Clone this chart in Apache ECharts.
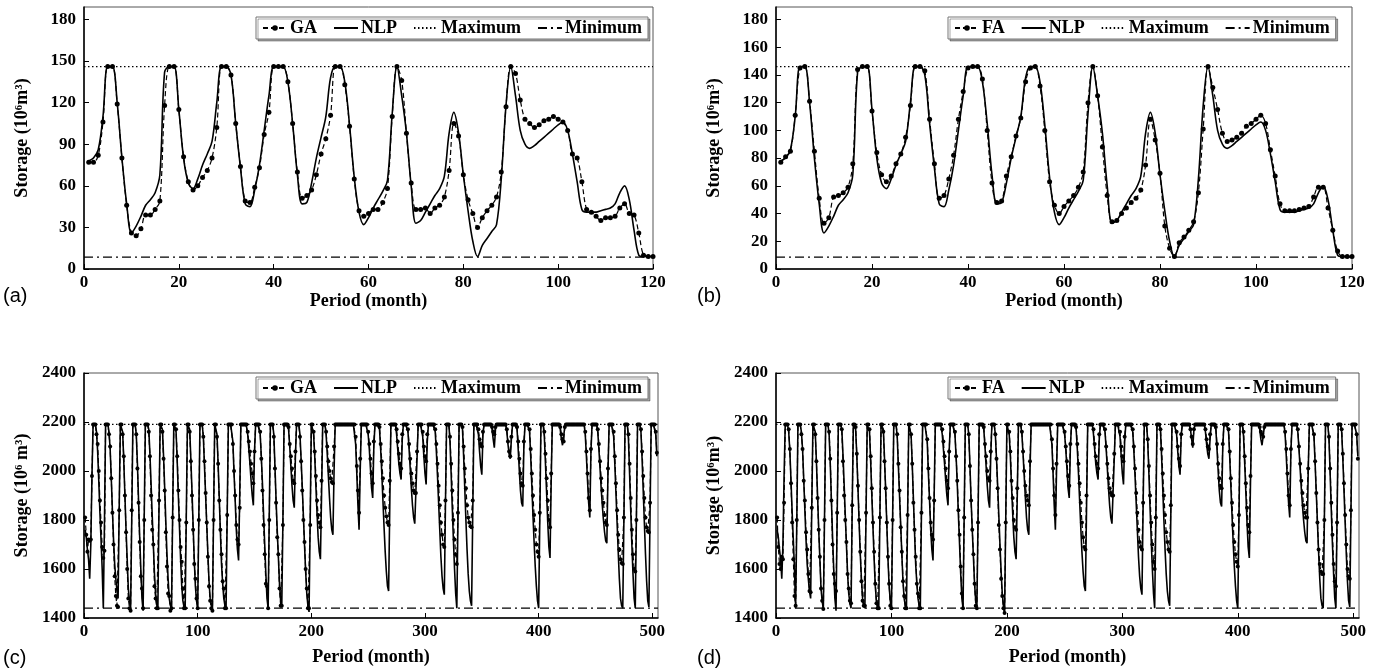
<!DOCTYPE html>
<html><head><meta charset="utf-8">
<script src="https://cdn.jsdelivr.net/npm/echarts@6/dist/echarts.min.js"></script>
<style>html,body{margin:0;padding:0;background:#fff}#c{width:1376px;height:669px}</style>
</head><body><div id="c"></div>
<script>
// ---- panel (a)/(b): 120 months ----
const nlp120 = [78,80,86,110,146,146,120,80,47,26, 31,38,46,50,55,68,142,146,146,115, 80,62,58,65,75,83,92,120,146,146,
140,105,73,47,45,57,75,100,125,146, 146,146,135,105,68,47,48,62,80,95, 110,138,146,146,135,104,66,41,32,37,
44,50,56,64,112,146,125,98,60,33, 35,41,47,53,58,67,98,113,98,68, 42,20,9,17,22,27,32,65,118,146,
125,100,90,87,89,92,95,98,101,104, 106,100,83,63,43,41,41,41,42,43, 44,47,55,60,50,28,10,9,9,9];
const ga120 = [77,77,82,106,146,146,119,80,46,26, 24,29,39,39,43,49,118,146,146,115, 81,63,57,60,66,71,80,102,146,146,
140,105,74,49,48,59,73,97,113,146, 146,146,135,105,70,51,53,57,68,83, 94,111,146,146,133,103,65,42,38,40,
43,43,48,58,110,146,136,98,62,43, 43,44,40,44,46,52,71,105,96,68, 50,40,30,37,42,46,52,70,117,146,
141,122,108,105,102,104,107,108,110,108, 106,100,83,80,63,43,41,38,35,37, 37,38,44,47,40,39,26,10,9,9];
const fa120 = [77,81,85,111,145,146,121,85,51,33, 37,52,53,55,59,76,144,146,146,114, 84,68,63,67,76,83,95,118,146,146,
143,108,76,51,53,65,82,108,128,145, 146,146,137,100,62,48,49,67,81,96, 109,135,145,146,132,100,63,46,40,45,
49,53,59,70,120,146,125,88,53,34, 35,40,44,48,51,57,75,108,93,69, 31,15,9,19,23,28,34,55,101,146,
131,115,98,92,93,95,98,103,105,108, 111,105,86,67,47,42,42,42,43,44, 45,52,59,59,44,28,13,9,9,9];
const maxA = 146, minA = 8.5;
const yTicksA = {min:0, max:189, a:30, b:20};

// ---- panel (c)/(d): 504 months ----
const nlp504 = [
1760,1730,1680,1640,1560,1700,1980,2190,2190,2190, 2160,2080,1960,1830,1720,1600,1440,1790,2190,2190,
2190,2160,2090,1970,1840,1720,1620,1560,1510,1480, 1860,2190,2190,2160,2040,1900,1760,1640,1520,1470,
1435,1800,2190,2190,2190,2150,2030,1880,1730,1600, 1480,1430,1820,2190,2190,2190,2170,2070,1950,1820,
1700,1580,1500,1460,1440,1850,2190,2190,2170,2060, 1930,1790,1660,1560,1480,1450,1440,1830,2190,2190,
2160,2040,1900,1770,1640,1530,1470,1445,1435,1820, 2190,2190,2170,2050,1920,1780,1640,1530,1470,1440,
1800,2190,2190,2190,2140,2020,1900,1780,1660,1550, 1480,1450,1440,1820,2190,2190,2150,2030,1890,1750,
1620,1540,1480,1450,1440,1830,2190,2190,2190,2190, 2120,1990,1880,1760,1680,1635,1900,2190,2190,2190,
2190,2190,2180,2150,2090,2030,1960,1900,1860,2080, 2190,2190,2190,2190,2150,2060,1950,1820,1700,1580,
1480,1440,1820,2190,2190,2190,2150,2020,1880,1760, 1650,1540,1470,1445,1800,2190,2190,2190,2190,2170,
2100,2020,1940,1880,1850,2060,2190,2190,2190,2150, 2050,1940,1820,1700,1590,1500,1450,1425,1800,2190,
2190,2150,2060,1940,1830,1730,1670,1640,1900,2190, 2190,2190,2150,2070,1980,1890,1810,1760,1740,2000,
2190,2190,2190,2190,2190,2190,2190,2190,2190,2190, 2190,2190,2190,2190,2190,2190,2190,2190,2110,1990,
1860,1760,2000,2190,2190,2190,2190,2190,2190,2150, 2090,2010,1930,1890,2100,2190,2190,2190,2190,2170,
2090,1990,1880,1770,1670,1590,1530,1510,1850,2190, 2190,2190,2190,2190,2150,2090,2030,1990,1965,2130,
2190,2190,2190,2190,2160,2090,2010,1930,1860,1810, 1785,1780,2050,2190,2190,2190,2190,2140,2060,1990,
1945,2120,2190,2190,2190,2190,2190,2190,2160,2080, 1980,1870,1760,1650,1570,1520,1495,1860,2190,2190,
2190,2120,1990,1850,1720,1600,1500,1440,1800,2190, 2190,2190,2170,2060,1930,1800,1680,1580,1510,1470,
1450,1820,2190,2190,2190,2190,2150,2080,2020,1985, 2150,2190,2190,2190,2190,2190,2190,2190,2170,2130,
2095,2170,2190,2190,2190,2190,2190,2190,2190,2190, 2190,2160,2110,2070,2050,2130,2190,2190,2190,2190,
2170,2090,2000,1920,1870,1855,2100,2190,2190,2190, 2190,2160,2060,1940,1820,1710,1610,1530,1470,1440,
1800,2190,2190,2190,2140,2030,1910,1790,1690,1645, 1950,2190,2190,2190,2190,2190,2190,2190,2170,2130,
2105,2100,2180,2190,2190,2190,2190,2190,2190,2190, 2190,2190,2190,2190,2190,2190,2190,2190,2190,2190,
2150,2060,1960,1870,1810,2080,2190,2190,2190,2190, 2190,2160,2090,2010,1930,1860,1800,1750,1715,1705,
2000,2190,2190,2190,2190,2140,2030,1910,1790,1670, 1560,1480,1450,1440,1800,2190,2190,2190,2130,1990,
1840,1700,1580,1480,1440,1810,2190,2190,2190,2160, 2050,1920,1790,1660,1550,1470,1445,1820,2190,2190,
2190,2190,2150,2060];
const ga504 = [
1810,1740,1670,1720,1715,1720,1980,2190,2190,2190, 2150,2110,2000,1880,1790,1690,1645,1675,2190,2190,
2190,2150,2100,1970,1830,1700,1570,1490,1450,1445, 1840,2190,2190,2150,2060,1900,1750,1600,1480,1440,
1430,1840,2190,2190,2190,2150,2010,1870,1710,1570, 1520,1440,1800,2190,2190,2190,2160,2060,1900,1760,
1700,1530,1480,1440,1440,1880,2190,2190,2160,2050, 1920,1750,1610,1500,1490,1430,1440,1810,2190,2190,
2170,2060,1920,1800,1690,1630,1520,1440,1440,1790, 2190,2190,2160,2040,1900,1760,1620,1560,1480,1440,
1800,2190,2190,2190,2140,2040,1910,1790,1650,1530, 1470,1440,1430,1800,2190,2190,2140,2030,1880,1760,
1660,1550,1520,1440,1440,1820,2190,2190,2190,2190, 2110,2000,1900,1780,1720,1700,1850,2190,2190,2190,
2190,2190,2190,2160,2120,2080,2030,1990,1950,2080, 2190,2190,2190,2190,2160,2050,1920,1780,1660,1540,
1530,1440,1800,2190,2190,2190,2140,2010,1870,1730, 1660,1520,1450,1450,1780,2190,2190,2190,2190,2180,
2110,2060,2010,1960,1950,2080,2190,2190,2190,2140, 2040,1920,1800,1710,1600,1520,1440,1440,1780,2190,
2190,2160,2080,1980,1880,1820,1790,1770,1960,2190, 2190,2190,2160,2100,2040,2000,1970,1955,1950,2100,
2190,2190,2190,2190,2190,2190,2190,2190,2190,2190, 2190,2190,2190,2190,2190,2190,2190,2190,2140,2020,
1920,1830,2050,2190,2190,2190,2190,2190,2190,2160, 2110,2050,1990,1950,2120,2190,2190,2190,2190,2180,
2110,2040,1970,1900,1850,1815,1790,1780,1960,2190, 2190,2190,2190,2190,2170,2120,2070,2030,2010,2150,
2190,2190,2190,2190,2170,2110,2050,1990,1950,1920, 1910,1910,2080,2190,2190,2190,2190,2160,2100,2060,
2040,2150,2190,2190,2190,2190,2190,2190,2170,2110, 2030,1940,1860,1790,1740,1700,1690,1880,2190,2190,
2190,2140,2030,1920,1800,1720,1660,1620,1830,2190, 2190,2190,2180,2100,2010,1930,1860,1810,1790,1775,
1770,1880,2190,2190,2190,2190,2170,2130,2110,2100, 2160,2190,2190,2190,2190,2190,2190,2190,2180,2160,
2150,2180,2190,2190,2190,2190,2190,2190,2190,2190, 2190,2170,2120,2080,2060,2140,2190,2190,2190,2190,
2180,2120,2050,1990,1950,1940,2120,2190,2190,2190, 2190,2170,2090,1990,1900,1820,1760,1700,1670,1650,
1830,2190,2190,2190,2160,2070,1970,1880,1800,1770, 1990,2190,2190,2190,2190,2190,2190,2190,2180,2150,
2130,2120,2180,2190,2190,2190,2190,2190,2190,2190, 2190,2190,2190,2190,2190,2190,2190,2190,2190,2190,
2160,2080,1990,1890,1840,2090,2190,2190,2190,2190, 2190,2170,2110,2040,1970,1920,1870,1820,1790,1780,
2010,2190,2190,2190,2190,2160,2060,1950,1840,1740, 1680,1640,1625,1620,1810,2190,2190,2190,2150,2030,
1890,1760,1660,1600,1590,1800,2190,2190,2190,2170, 2080,1980,1890,1810,1770,1755,1750,1870,2190,2190,
2190,2190,2160,2075];
const fa504 = [
1810,1690,1620,1600,1650,1640,1870,2190,2190,2190, 2170,2090,1950,1790,1640,1490,1450,1800,2190,2190,
2190,2150,2090,1960,1880,1750,1680,1580,1510,1505, 1850,2190,2190,2150,2040,1890,1760,1650,1520,1470,
1437,1800,2190,2190,2190,2160,2050,1880,1700,1580, 1540,1510,1830,2190,2190,2190,2170,2040,1900,1800,
1710,1580,1520,1470,1460,1860,2190,2190,2180,2070, 1940,1800,1670,1550,1470,1450,1450,1830,2190,2190,
2170,2060,1930,1790,1670,1540,1460,1440,1440,1810, 2190,2190,2160,2040,1930,1790,1650,1540,1450,1440,
1800,2190,2190,2190,2150,2030,1920,1770,1670,1550, 1490,1440,1440,1820,2190,2190,2150,2030,1870,1760,
1650,1540,1500,1440,1440,1830,2190,2190,2190,2190, 2130,2010,1890,1790,1740,1720,1880,2190,2190,2190,
2190,2190,2190,2170,2120,2060,2010,1960,1930,2080, 2190,2190,2190,2190,2160,2060,1960,1840,1740,1610,
1500,1440,1810,2190,2190,2190,2150,2020,1880,1760, 1660,1540,1450,1440,1790,2190,2190,2190,2190,2180,
2110,2060,2000,1970,1960,2080,2190,2190,2190,2150, 2050,1930,1780,1680,1560,1490,1440,1420,1790,2190,
2190,2160,2080,1960,1890,1800,1770,1760,1930,2190, 2190,2190,2160,2080,2000,1940,1900,1880,1860,2040,
2190,2190,2190,2190,2190,2190,2190,2190,2190,2190, 2190,2190,2190,2190,2190,2190,2190,2190,2130,2010,
1900,1820,2030,2190,2190,2190,2190,2190,2190,2160, 2100,2040,1980,1940,2110,2190,2190,2190,2190,2180,
2110,2030,1950,1870,1790,1730,1690,1680,1900,2190, 2190,2190,2190,2190,2170,2110,2060,2030,2010,2150,
2190,2190,2190,2190,2170,2100,2030,1970,1930,1910, 1900,1900,2070,2190,2190,2190,2190,2160,2100,2060,
2040,2140,2190,2190,2190,2190,2190,2190,2170,2100, 2010,1910,1830,1760,1710,1690,1680,1870,2190,2190,
2190,2130,2020,1900,1790,1700,1630,1600,1810,2190, 2190,2190,2170,2090,1990,1900,1820,1750,1710,1680,
1670,1860,2190,2190,2190,2190,2160,2100,2050,2020, 2150,2190,2190,2190,2190,2190,2190,2190,2170,2140,
2110,2170,2190,2190,2190,2190,2190,2190,2190,2190, 2190,2170,2130,2100,2090,2150,2190,2190,2190,2190,
2180,2110,2030,1970,1940,1930,2110,2190,2190,2190, 2190,2170,2080,1970,1870,1780,1710,1660,1630,1610,
1820,2190,2190,2190,2160,2060,1950,1850,1780,1750, 1980,2190,2190,2190,2190,2190,2190,2190,2180,2160,
2150,2140,2180,2190,2190,2190,2190,2190,2190,2190, 2190,2190,2190,2190,2190,2190,2190,2190,2190,2190,
2160,2090,1990,1900,1860,2090,2190,2190,2190,2190, 2190,2170,2100,2030,1960,1910,1860,1830,1810,1810,
2010,2190,2190,2190,2190,2150,2040,1910,1790,1680, 1620,1590,1580,1580,1800,2190,2190,2190,2140,2010,
1870,1740,1620,1550,1530,1790,2190,2190,2190,2170, 2070,1950,1820,1700,1600,1570,1560,1840,2190,2190,
2190,2190,2150,2050];
const maxC = 2190, minC = 1440;

const FONT = 'Liberation Serif';
const pairs = arr => arr.map((v, i) => [i + 1, v]);
const flat = (v, x1) => [[0, v], [x1, v]];

const grids = [
  {left: 84, top: 7, width: 569, height: 262},
  {left: 776, top: 7, width: 576, height: 262},
  {left: 84, top: 373, width: 574, height: 245},
  {left: 776, top: 373, width: 583, height: 245}
];

function xAx(i, max, interval, nameGap) {
  return {gridIndex: i, type: 'value', min: 0, max: max, interval: interval,
    name: 'Period (month)', nameLocation: 'middle', nameGap: nameGap,
    nameTextStyle: {fontFamily: FONT, fontWeight: 'bold', fontSize: 18, color: '#000'},
    axisLine: {lineStyle: {color: '#000', width: 1.5}},
    axisTick: {inside: true, length: 5, lineStyle: {color: '#000'}},
    axisLabel: {fontFamily: FONT, fontWeight: 'bold', fontSize: 17, color: '#000', margin: 5,
      showMaxLabel: max % interval === 0, formatter: v => String(v)},
    splitLine: {show: false}};
}
function yAx(i, min, max, interval, name) {
  return {gridIndex: i, type: 'value', min: min, max: max, interval: interval,
    name: name, nameLocation: 'middle', nameGap: 53, nameRotate: 90,
    nameTextStyle: {fontFamily: FONT, fontWeight: 'bold', fontSize: 18, color: '#000'},
    axisLine: {show: true, lineStyle: {color: '#000', width: 1.5}},
    axisTick: {show: true, inside: true, length: 5, lineStyle: {color: '#000'}},
    axisLabel: {fontFamily: FONT, fontWeight: 'bold', fontSize: 17, color: '#000', margin: 8,
      showMaxLabel: (max - min) % interval === 0, formatter: v => String(v)},
    splitLine: {show: false}};
}

function panelSeries(i, algName, algData, nlpData, maxV, minV, xMax, smooth, symSize) {
  return [
    {name: 'NLP', type: 'line', xAxisIndex: i, yAxisIndex: i, data: pairs(nlpData), symbol: 'none',
     smooth: smooth, lineStyle: {color: '#000', width: 1.6}, itemStyle: {color: '#000'}, z: 2},
    {name: algName, type: 'line', xAxisIndex: i, yAxisIndex: i, data: pairs(algData), symbol: 'circle',
     symbolSize: symSize, showAllSymbol: true, smooth: smooth,
     lineStyle: {color: '#000', width: 1.2, type: [5, 3]}, itemStyle: {color: '#000'}, z: 3},
    {name: 'Maximum', type: 'line', xAxisIndex: i, yAxisIndex: i, data: flat(maxV, xMax), symbol: 'none',
     lineStyle: {color: '#000', width: 1.3, type: [1.5, 2.5]}, itemStyle: {color: '#000'}, z: 1},
    {name: 'Minimum', type: 'line', xAxisIndex: i, yAxisIndex: i, data: flat(minV, xMax), symbol: 'none',
     lineStyle: {color: '#000', width: 1.3, type: [9, 4, 2, 4]}, itemStyle: {color: '#000'}, z: 1}
  ];
}

function legendAt(left, top, alg) {
  const hide = {opacity: 0};
  return {left: left, top: top, orient: 'horizontal',
    data: [{name: alg}, {name: 'NLP', itemStyle: hide}, {name: 'Maximum', itemStyle: hide}, {name: 'Minimum', itemStyle: hide}],
    itemWidth: 24, itemHeight: 7, itemGap: 16, padding: [2, 6],
    borderColor: '#777', borderWidth: 1, backgroundColor: '#fff',
    shadowColor: 'rgba(0,0,0,0.35)', shadowOffsetX: 2, shadowOffsetY: 2, shadowBlur: 0,
    selectedMode: false,
    textStyle: {fontFamily: FONT, fontWeight: 'bold', fontSize: 18, color: '#000', padding: [0, 0, 0, -2]}};
}

const option = {
  animation: false,
  backgroundColor: '#fff',
  grid: grids.map(g => Object.assign({show: true, borderColor: '#555', borderWidth: 1, backgroundColor: 'transparent'}, g)),
  xAxis: [xAx(0, 120, 20, 22), xAx(1, 120, 20, 22), xAx(2, 505, 100, 30), xAx(3, 505, 100, 30)],
  yAxis: [yAx(0, yTicksA.min, yTicksA.max, yTicksA.a, 'Storage (10\u2076m\u00b3)'),
          yAx(1, yTicksA.min, yTicksA.max, yTicksA.b, 'Storage (10\u2076m\u00b3)'),
          yAx(2, 1400, 2400, 200, 'Storage (10\u2076 m\u00b3)'),
          yAx(3, 1400, 2400, 200, 'Storage (10\u2076m\u00b3)')],
  legend: [legendAt(256, 17, 'GA'), legendAt(948, 17, 'FA'), legendAt(256, 377, 'GA'), legendAt(948, 377, 'FA')],
  series: [].concat(
    panelSeries(0, 'GA', ga120, nlp120, maxA, minA, 120, 0.35, 5),
    panelSeries(1, 'FA', fa120, nlp120, maxA, minA, 120, 0.35, 5),
    panelSeries(2, 'GA', ga504, nlp504, maxC, minC, 505, false, 4),
    panelSeries(3, 'FA', fa504, nlp504, maxC, minC, 505, false, 4)
  ),
  graphic: [
    {type: 'text', left: 3, top: 286, style: {text: '(a)', font: '20px "Liberation Sans"', fill: '#000'}},
    {type: 'text', left: 697, top: 286, style: {text: '(b)', font: '20px "Liberation Sans"', fill: '#000'}},
    {type: 'text', left: 3, top: 648, style: {text: '(c)', font: '20px "Liberation Sans"', fill: '#000'}},
    {type: 'text', left: 697, top: 648, style: {text: '(d)', font: '20px "Liberation Sans"', fill: '#000'}}
  ]
};
const chart = echarts.init(document.getElementById('c'), null, {renderer: 'canvas'});
chart.setOption(option);
</script></body></html>
